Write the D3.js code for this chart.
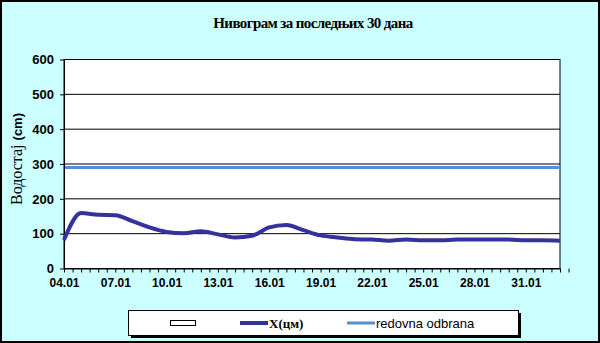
<!DOCTYPE html>
<html lang="sr">
  <head>
    <meta charset="utf-8" />
    <title>Нивограм</title>
    <script src="https://cdn.jsdelivr.net/npm/d3@7"></script>
    <style>
      body { margin: 0; background: #fff; }
    </style>
  </head>
  <body>
    <svg id="chart" width="600" height="343" viewBox="0 0 600 343"></svg>
    <script>
      // daily readings, last 30 days
      const days = ["04.01","05.01","06.01","07.01","08.01","09.01","10.01","11.01","12.01","13.01",
                    "14.01","15.01","16.01","17.01","18.01","19.01","20.01","21.01","22.01","23.01",
                    "24.01","25.01","26.01","27.01","28.01","29.01","30.01","31.01","01.02","02.02"];
      const levels = [82,159,154,153,136,118,105,101,107,98,
                      89,94,118,125,110,95,89,84,83,80,
                      83,81,81,83,83,83,83,81,81,80];
      const regularDefence = 290;
      const yTicks = [0,100,200,300,400,500,600];
      const xLabelEvery = 3;

      const svg = d3.select("#chart");
      const W = 600, H = 343;
      const margin = {top: 59, right: 40, bottom: 75, left: 64};

      // chart background + border
      svg.append("rect")
        .attr("x", 1).attr("y", 1).attr("width", W - 2).attr("height", H - 2)
        .attr("fill", "#ccffff").attr("stroke", "#000").attr("stroke-width", 2);

      const x = d3.scaleLinear()
        .domain([0, days.length - 1])
        .range([margin.left, W - margin.right]);
      const y = d3.scaleLinear()
        .domain([0, 600])
        .range([H - margin.bottom + 0.5, margin.top + 0.5]);

      // plot area
      svg.append("rect")
        .attr("x", margin.left).attr("y", y(600))
        .attr("width", x(days.length - 1) - margin.left)
        .attr("height", y(0) - y(600))
        .attr("fill", "#fff").attr("stroke", "#000");

      // gridlines
      svg.append("g")
        .selectAll("line")
        .data(yTicks.slice(1))
        .join("line")
          .attr("x1", margin.left).attr("x2", x(days.length - 1))
          .attr("y1", d => y(d)).attr("y2", d => y(d))
          .attr("stroke", "#000").attr("stroke-width", 1);

      // y axis
      svg.append("g")
        .attr("transform", `translate(${margin.left},0)`)
        .call(d3.axisLeft(y).tickValues(yTicks).tickSize(4).tickPadding(6).tickSizeOuter(0))
        .call(g => g.selectAll(".tick line").attr("stroke", "#000"))
        .call(g => g.selectAll(".tick text")
          .attr("font-family", "Liberation Sans, Arial")
          .attr("font-weight", "700")
          .attr("font-size", "13px")
          .attr("fill", "#000"));

      // x axis: tick every half day, label every 3 days
      const halfDays = d3.range(0, days.length - 0.5 + 0.01, 0.5);
      svg.append("g")
        .attr("transform", `translate(0,${y(0)})`)
        .call(d3.axisBottom(x).tickValues(halfDays).tickSize(4).tickPadding(6).tickSizeOuter(0)
          .tickFormat(d => (Number.isInteger(d) && d % xLabelEvery === 0) ? days[d] : ""))
        .call(g => g.selectAll(".tick line").attr("stroke", "#000"))
        .call(g => g.selectAll(".tick text")
          .attr("font-family", "Liberation Sans, Arial")
          .attr("font-weight", "700")
          .attr("font-size", "12px")
          .attr("fill", "#000"));

      // redovna odbrana
      svg.append("line")
        .attr("x1", margin.left + 1).attr("x2", x(days.length - 1))
        .attr("y1", y(regularDefence)).attr("y2", y(regularDefence))
        .attr("stroke", "#558ed5").attr("stroke-width", 3);

      // water level line
      const line = d3.line()
        .x((d, i) => x(i))
        .y(d => y(d))
        .curve(d3.curveMonotoneX);
      svg.append("path")
        .datum(levels)
        .attr("fill", "none")
        .attr("stroke", "#333399")
        .attr("stroke-width", 4)
        .attr("stroke-linejoin", "round")
        .attr("d", line);

      // title
      svg.append("text")
        .attr("x", 313).attr("y", 28)
        .attr("text-anchor", "middle")
        .attr("font-family", "Liberation Serif, Times New Roman")
        .attr("font-weight", "700")
        .attr("font-size", "15px")
        .attr("letter-spacing", "-0.6px")
        .text("Нивограм за последњих 30 дана");

      // y title
      const yt = svg.append("text")
        .attr("transform", "translate(22,159) rotate(-90)")
        .attr("text-anchor", "middle");
      yt.append("tspan")
        .attr("font-family", "Liberation Serif, Times New Roman")
        .attr("font-size", "16px")
        .text("Водостај ");
      yt.append("tspan")
        .attr("font-family", "Liberation Sans, Arial")
        .attr("font-weight", "700")
        .attr("font-size", "13px")
        .text("(cm)");

      // legend
      const lg = svg.append("g");
      lg.append("rect")
        .attr("x", 131).attr("y", 313).attr("width", 390).attr("height", 25)
        .attr("fill", "#000");
      lg.append("rect")
        .attr("x", 128.5).attr("y", 310.5).attr("width", 390).attr("height", 25)
        .attr("fill", "#fff").attr("stroke", "#000");
      lg.append("rect")
        .attr("x", 170.5).attr("y", 320.5).attr("width", 25).attr("height", 5)
        .attr("fill", "#fff").attr("stroke", "#000");
      lg.append("line")
        .attr("x1", 240).attr("x2", 268).attr("y1", 323).attr("y2", 323)
        .attr("stroke", "#333399").attr("stroke-width", 4);
      lg.append("text")
        .attr("x", 269).attr("y", 328)
        .attr("font-family", "Liberation Serif, Times New Roman")
        .attr("font-weight", "700")
        .attr("font-size", "13px")
        .text("X(цм)");
      lg.append("line")
        .attr("x1", 347).attr("x2", 375).attr("y1", 323).attr("y2", 323)
        .attr("stroke", "#558ed5").attr("stroke-width", 3);
      lg.append("text")
        .attr("x", 376).attr("y", 328)
        .attr("font-family", "Liberation Sans, Arial")
        .attr("font-size", "13px")
        .text("redovna odbrana");
    </script>
  </body>
</html>
